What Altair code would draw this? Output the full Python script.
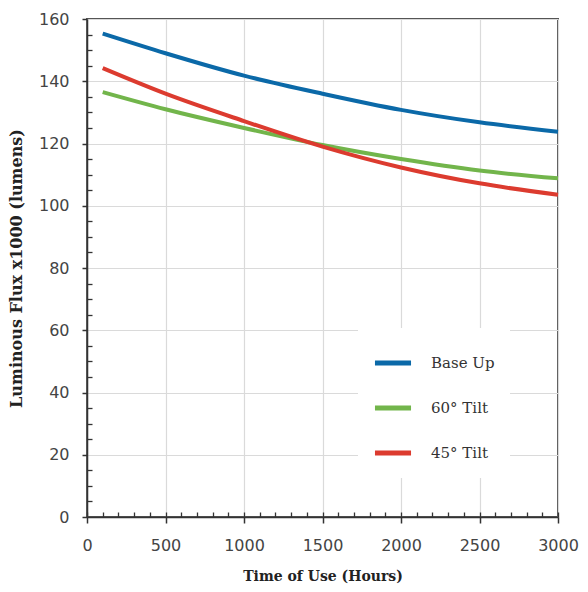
import altair as alt
import pandas as pd

hours = [100, 500, 1000, 1500, 2000, 2500, 3000]
base_up = [155.3, 149.0, 141.8, 136.0, 130.8, 126.8, 123.8]
tilt60 = [136.5, 131.0, 125.0, 119.5, 115.0, 111.3, 108.8]
tilt45 = [144.2, 136.0, 127.2, 119.0, 112.3, 107.2, 103.5]

series = ["Base Up", "60° Tilt", "45° Tilt"]
colors = ["#0b69a8", "#72b54b", "#dc3b2f"]

x_major = [0, 500, 1000, 1500, 2000, 2500, 3000]
x_minor = list(range(0, 3001, 100))
y_major = [0, 20, 40, 60, 80, 100, 120, 140, 160]
y_minor = [v for v in range(0, 161, 5) if v % 20 != 0]

rows = []
for name, vals in zip(series, [base_up, tilt60, tilt45]):
    for h, v in zip(hours, vals):
        rows.append({"hours": h, "flux": v, "series": name})
df = pd.DataFrame(rows)

xs = alt.Scale(domain=[0, 3000], nice=False, zero=False)
ys = alt.Scale(domain=[0, 160], nice=False)

lines = alt.Chart(df).mark_line(strokeWidth=4, interpolate="monotone").encode(
    x=alt.X("hours:Q", scale=xs, axis=alt.Axis(
        orient="bottom", format="d", labelFlush=False,
        values=x_major, title="Time of Use (Hours)", grid=True, gridColor="#dadada",
        gridWidth=1.2, domainColor="#333", domainWidth=1.5, tickColor="#333",
        tickWidth=1.5, tickSize=6, labelPadding=14, labelFont="DejaVu Sans",
        labelFontSize=16, labelColor="#444", titleFont="DejaVu Serif",
        titleFontWeight="bold", titleFontSize=14, titleColor="#222", titlePadding=16)),
    y=alt.Y("flux:Q", scale=ys, axis=alt.Axis(
        orient="left", format="d", labelFlush=False,
        values=y_major, title="Luminous Flux x1000 (lumens)", grid=True, gridColor="#dadada",
        gridWidth=1.2, domainColor="#333", domainWidth=1.5, tickColor="#333",
        tickWidth=1.5, tickSize=5, labelPadding=13, labelFont="DejaVu Sans",
        labelFontSize=16, labelColor="#444", titleFont="DejaVu Serif",
        titleFontWeight="bold", titleFontSize=16, titleColor="#222", titlePadding=14)),
    color=alt.Color("series:N", sort=series,
                    scale=alt.Scale(domain=series, range=colors),
                    legend=alt.Legend(
                        title=None, orient="none", legendX=271, legendY=309,
                        symbolType="stroke", symbolStrokeWidth=5, symbolSize=1300,
                        rowPadding=14, labelOffset=17, labelFont="DejaVu Serif",
                        labelFontSize=15, labelColor="#333", fillColor="white",
                        padding=14, strokeColor="white")),
)

minor = alt.Chart(df).mark_point(opacity=0).encode(
    x=alt.X("hours:Q", scale=xs, axis=alt.Axis(
        values=x_minor, orient="bottom", offset=-5, labels=False, title=None,
        grid=False, domain=False, tickColor="#333", tickWidth=1.3, tickSize=5)),
    y=alt.Y("flux:Q", scale=ys, axis=alt.Axis(
        values=y_minor, orient="left", offset=-5, labels=False, title=None,
        grid=False, domain=False, tickColor="#333", tickWidth=1.3, tickSize=5)),
)

chart = alt.layer(lines, minor).resolve_axis(x="independent", y="independent").properties(
    width=471, height=498,
    autosize=alt.AutoSizeParams(type="none"),
    padding={"left": 87, "top": 19, "right": 30, "bottom": 75},
    background="white",
).configure_view(stroke="#555", strokeWidth=2)

chart.save("out.html", embed_options={"renderer": "svg", "actions": False})
